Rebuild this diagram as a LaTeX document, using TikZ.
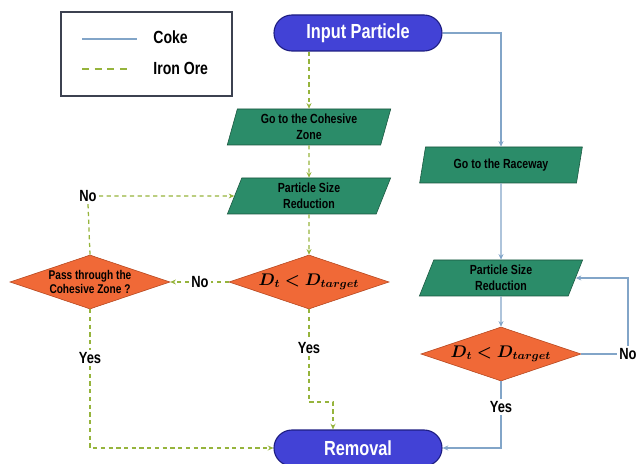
\documentclass[tikz,border=0pt]{standalone}
\usepackage{fontspec}
\setmainfont{Liberation Sans}[FakeStretch=0.8]
\usepackage{amsmath, bm}
\usetikzlibrary{shapes.geometric, arrows.meta}

\definecolor{termfill}{RGB}{66,66,214}
\definecolor{termedge}{RGB}{30,30,130}
\definecolor{procfill}{RGB}{43,140,105}
\definecolor{procedge}{RGB}{25,85,62}
\definecolor{decfill}{RGB}{240,105,55}
\definecolor{decedge}{RGB}{180,70,30}
\definecolor{cokeblue}{RGB}{130,165,200}
\definecolor{oregreen}{RGB}{150,180,60}
\definecolor{legendedge}{RGB}{60,65,80}

\begin{document}
\begin{tikzpicture}[x=0.25mm, y=-0.25mm,
  terminal/.style={draw=termedge, fill=termfill, line width=0.8pt, rounded corners=4.5mm,
    minimum width=42mm, minimum height=9mm, text=white, font=\bfseries\fontsize{14.5}{16}\selectfont},
  process/.style={trapezium, trapezium left angle=76, trapezium right angle=104,
    trapezium stretches=true, draw=procedge, fill=procfill, minimum width=41mm,
    minimum height=9mm, align=center, inner sep=1pt, font=\bfseries\fontsize{9.4}{11}\selectfont},
  decision/.style={diamond, aspect=3, draw=decedge, fill=decfill, minimum width=40mm,
    minimum height=13.5mm, inner sep=0pt, align=center, font=\bfseries\fontsize{9}{10.5}\selectfont},
  lbl/.style={inner sep=1.5pt, font=\bfseries\fontsize{11.5}{13}\selectfont},
  coke/.style={draw=cokeblue, line width=0.9pt},
  ore/.style={draw=oregreen, line width=0.9pt, dash pattern=on 3pt off 2.5pt},
  tip/.style={-{Stealth[length=4pt, width=3.5pt]}}
]
\clip (0,0) rectangle (637,464);
\useasboundingbox (0,0) rectangle (637,464);

% legend
\draw[legendedge, line width=0.9pt] (61,12) rectangle (232,96);
\coordinate (cokeA) at (82,39);
\coordinate (cokeB) at (137,39);
\coordinate (oreA) at (82,69);
\coordinate (oreB) at (132,69);
\draw[coke, line width=1.4pt] (cokeA) -- (cokeB);
\draw[ore, line width=1.4pt, dash pattern=on 5pt off 4pt] (oreA) -- (oreB);
\node[lbl, anchor=west, font=\bfseries\fontsize{12.5}{14}\selectfont] (cokeText) at (151,37) {Coke};
\node[lbl, anchor=west, font=\bfseries\fontsize{12.5}{14}\selectfont] (oreText) at (151,68) {Iron Ore};

% flow nodes
\node[terminal] (input) at (358,33) {Input Particle};
\node[terminal] (removal) at (358,448) {Removal};
\node[process] (cohesive) at (309,127) {Go to the Cohesive\\Zone};
\node[process] (reduceL) at (309,196) {Particle Size\\Reduction};
\node[decision] (checkL) at (309,282) {\fontsize{12}{14}\selectfont$\bm{D_t < D_{target}}$};
\node[decision] (pass) at (90,282) {Pass through the\\Cohesive Zone ?};
\node[process] (raceway) at (501,165) {Go to the Raceway};
\node[process] (reduceR) at (501,278) {Particle Size\\Reduction};
\node[decision] (checkR) at (501,354) {\fontsize{12}{14}\selectfont$\bm{D_t < D_{target}}$};

% branch labels
\node[lbl] (noL) at (88,196) {No};
\node[lbl] (noM) at (200,282) {No};
\node[lbl] (noR) at (628,354) {No};
\node[lbl] (yesL) at (90,358) {Yes};
\node[lbl] (yesM) at (309,348) {Yes};
\node[lbl] (yesR) at (501,407) {Yes};
\coordinate (bendM) at (333,402);

% coke route
\draw[coke, tip] (input.east) -| (raceway.north);
\draw[coke, tip] (raceway) -- (reduceR);
\draw[coke, tip] (reduceR) -- (checkR);
\draw[coke] (checkR.east) -- (noR.west);
\draw[coke, tip] (noR.north) |- (reduceR.east);
\draw[coke] (checkR.south) -- (yesR.north);
\draw[coke, tip] (yesR.south) |- (removal.east);

% iron ore route
\draw[ore, tip] (input.south -| cohesive.north) -- (cohesive.north);
\draw[ore, tip] (cohesive) -- (reduceL);
\draw[ore, tip] (reduceL) -- (checkL);
\draw[ore] (checkL.west) -- (noM.east);
\draw[ore, tip] (noM.west) -- (pass.east);
\draw[ore] (pass.north) -- (noL.south);
\draw[ore, tip] (noL.east) -- (reduceL.west);
\draw[ore] (pass.south) -- (yesL.north);
\draw[ore, tip] (yesL.south) |- (removal.west);
\draw[ore] (checkL.south) -- (yesM.north);
\draw[ore, tip] (yesM.south) |- (bendM) -- (bendM |- removal.north);
\end{tikzpicture}
\end{document}
